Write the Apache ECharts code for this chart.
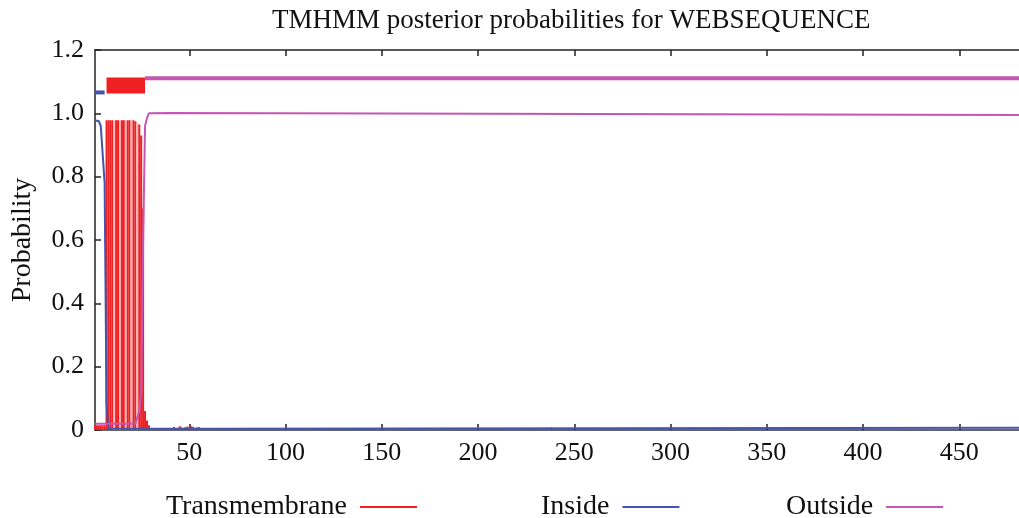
<!DOCTYPE html>
<html><head><meta charset="utf-8">
<script src="https://cdn.jsdelivr.net/npm/echarts@6/dist/echarts.min.js"></script>
<style>html,body{margin:0;padding:0;background:#fff}#c{width:1019px;height:518px}</style>
</head><body><div id="c"></div>
<script>
// x tick labels
const xTicks = [50, 100, 150, 200, 250, 300, 350, 400, 450];
// transmembrane probability per residue [residue, probability] (residues not listed are ~0)
const transmembrane = [[1,0.015],[2,0.015],[3,0.015],[4,0.015],[5,0.015],[6,0.015],
  [7,0.978],[8,0.978],[9,0.978],[10,0.978],[11,0.978],[12,0.978],[13,0.978],[14,0.978],[15,0.978],
  [16,0.978],[17,0.978],[18,0.978],[19,0.978],[20,0.978],[21,0.978],[22,0.975],[23,0.97],[24,0.965],
  [25,0.93],[26,0.7],[27,0.06],[28,0.03],[29,0.015],[30,0.005],
  [42,0.01],[43,0.004],[44,0.006],[45,0.012],[46,0.008],[47,0.006],[48,0.009],[49,0.011],[50,0.008],
  [51,0.012],[52,0.01],[53,0.006],[54,0.008],[55,0.009],[56,0.004],[238,0.008]];
// inside / outside probabilities read at change points
const inside = [[1,0.978],[3,0.975],[4,0.96],[5,0.87],[6,0.78],[7,0.08],[8,0.004],[62,0.004],[63,0.007],[481,0.007]];
const outside = [[1,0.02],[22,0.02],[24,0.06],[25,0.12],[26,0.6],[27,0.96],[28,0.985],[29,1.0],[40,1.001],[41,0.995],[481,0.995]];
// predicted topology bars at the top
const topoInside = [[1,1.066],[6,1.066]];
const topoTM = [[7,1.088],[27,1.088]];
const topoOutside = [[27,1.111],[481,1.111]];

const RED = '#ee2024', RED_LIGHT = '#f7b8b8', BLUE = '#4454ac', PINK = '#c456b4';
const FONT = 'Liberation Serif';
const tmData = transmembrane.map(([r, v]) => {
  const c = (r >= 10 && r <= 24 && (r - 2) % 3 === 0) ? RED_LIGHT : RED;
  return {value: [r, v], itemStyle: {color: c, borderColor: c, borderWidth: 1.4}};
});
const chart = echarts.init(document.getElementById('c'), null, {renderer: 'canvas'});
const legendBase = {
  orient: 'horizontal', align: 'right', icon: 'rect', itemWidth: 57, itemHeight: 2,
  top: 493, padding: 0, textStyle: {fontFamily: FONT, fontSize: 28, color: '#111', padding: [0, 8, 0, 0]},
  itemStyle: {borderWidth: 0},
  selectedMode: false
};
chart.setOption({
  backgroundColor: '#fff',
  animation: false,
  title: {text: 'TMHMM posterior probabilities for WEBSEQUENCE', left: 267, top: 2,
    textStyle: {fontFamily: FONT, fontSize: 27, fontWeight: 'normal', color: '#111'}},
  legend: [
    Object.assign({}, legendBase, {left: 166, data: ['Transmembrane']}),
    Object.assign({}, legendBase, {left: 541, data: ['Inside']}),
    Object.assign({}, legendBase, {left: 786, data: ['Outside']})
  ],
  grid: {left: 95, right: 0, top: 50, bottom: 88},
  xAxis: [{
    type: 'value', min: 1, max: 481, position: 'bottom',
    axisLine: {lineStyle: {color: '#333', width: 1.5}},
    axisTick: {inside: true, length: 6, customValues: xTicks, lineStyle: {color: '#222', width: 1.5}},
    axisLabel: {customValues: xTicks, fontFamily: FONT, fontSize: 26, color: '#111', margin: 10},
    splitLine: {show: false}
  }, {
    type: 'value', min: 1, max: 481, position: 'top',
    axisLine: {show: true, onZero: false, lineStyle: {color: '#222', width: 1.5}},
    axisTick: {show: true, inside: true, length: 6, customValues: xTicks, lineStyle: {color: '#222', width: 1.5}},
    axisLabel: {show: false}, splitLine: {show: false}
  }],
  yAxis: {
    type: 'value', min: 0, max: 1.2, interval: 0.2,
    name: 'Probability', nameLocation: 'middle', nameGap: 58, nameRotate: 90,
    nameTextStyle: {fontFamily: FONT, fontSize: 28, color: '#111'},
    axisLine: {show: true, lineStyle: {color: '#222', width: 1.5}},
    axisTick: {inside: true, length: 6, lineStyle: {color: '#222', width: 1.5}},
    axisLabel: {fontFamily: FONT, fontSize: 26, color: '#111', margin: 11,
      formatter: v => v === 0 ? '0' : v.toFixed(1)},
    splitLine: {show: false}
  },
  series: [
    {name: 'Transmembrane', type: 'bar', data: tmData, barWidth: 2, color: RED,
     itemStyle: {color: RED}, z: 2},
    {name: 'Inside', type: 'line', data: inside, symbol: 'none', color: BLUE,
     lineStyle: {color: BLUE, width: 2}, z: 3},
    {name: 'Outside', type: 'line', data: outside, symbol: 'none', color: PINK,
     lineStyle: {color: PINK, width: 2}, z: 4},
    {name: 'topoInside', type: 'line', data: topoInside, symbol: 'none',
     lineStyle: {color: BLUE, width: 4, cap: 'butt'}, z: 3},
    {name: 'topoTM', type: 'line', data: topoTM, symbol: 'none',
     lineStyle: {color: RED, width: 16, cap: 'butt'}, z: 3},
    {name: 'topoOutside', type: 'line', data: topoOutside, symbol: 'none',
     lineStyle: {color: PINK, width: 4, cap: 'butt'}, z: 3}
  ]
});
</script></body></html>
